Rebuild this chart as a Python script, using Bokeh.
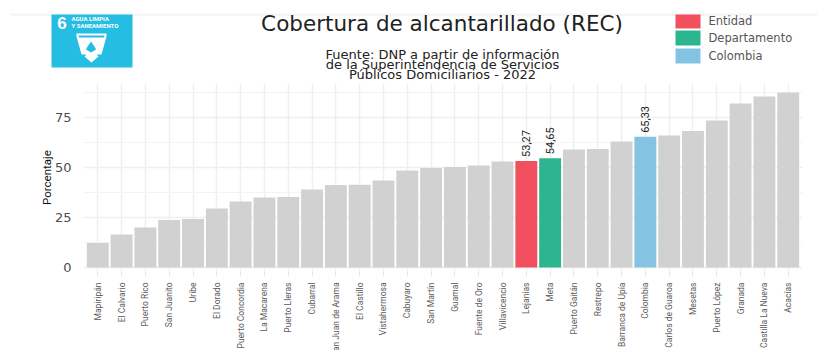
from math import pi
from bokeh.plotting import figure
from bokeh.layouts import column
from bokeh.models import ColumnDataSource, FactorRange, Range1d, FixedTicker
from bokeh.core.properties import value
from bokeh.embed import file_html
from bokeh.resources import INLINE

municipios = ["Mapiripán", "El Calvario", "Puerto Rico", "San Juanito", "Uribe", "El Dorado",
              "Puerto Concordia", "La Macarena", "Puerto Lleras", "Cubarral", "San Juan de Arama",
              "El Castillo", "Vistahermosa", "Cabuyaro", "San Martín", "Guamal", "Fuente de Oro",
              "Villavicencio", "Lejanías", "Meta", "Puerto Gaitán", "Restrepo", "Barranca de Upía",
              "Colombia", "San Carlos de Guaroa", "Mesetas", "Puerto López", "Granada",
              "Castilla La Nueva", "Acacías"]
cobertura = [12.3, 16.5, 20.0, 23.8, 24.2, 29.5, 33.0, 35.0, 35.2, 39.0, 41.3, 41.4, 43.5, 48.5,
             49.7, 50.2, 51.0, 53.0, 53.27, 54.65, 59.0, 59.3, 63.0, 65.33, 66.0, 68.2, 73.5,
             82.0, 85.5, 87.5]
destacados = {"Lejanías": "Entidad", "Meta": "Departamento", "Colombia": "Colombia"}
colores_leyenda = {"Entidad": "#F2505F", "Departamento": "#2DB58F", "Colombia": "#85C3E3"}
color_base = "#D1D1D1"
y_ticks = [0, 25, 50, 75]
y_minor = [12.5, 37.5, 62.5, 87.5]

titulo = "Cobertura de alcantarillado (REC)"
fuente = ["Fuente: DNP a partir de información",
          "de la Superintendencia de Servicios",
          "Públicos Domiciliarios - 2022"]
NARROW = "Roboto"
WIDE = "DejaVu Sans"

# Header: coordinates are page pixels
h = figure(width=817, height=83, x_range=Range1d(0, 817), y_range=Range1d(83, 0),
           output_backend="svg", toolbar_location=None, min_border=0, outline_line_color=None,
           frame_align=False)
h.axis.visible = False
h.grid.visible = False
h.quad(left=[8], right=[817], top=[13], bottom=[14], color="#F6F6F6", line_color=None)
h.quad(left=[10], right=[817], top=[14], bottom=[15], color="#EEEEEE", line_color=None)

# ODS 6 logo
h.quad(left=[51], right=[132], top=[14], bottom=[67], color="#26BDE2", line_color=None)
h.patch([76, 106, 106, 101, 96, 98, 91, 84, 86, 81, 76], [33, 33, 36, 54, 54, 56, 62, 56, 54, 54, 36],
        color="#FFFFFF", line_color=None)
h.patch([78, 104, 103.5, 78.5], [35, 35, 37, 37], color="#26BDE2", line_color=None)
h.patch([90.5, 94, 95.5, 90.5, 85.5, 87], [41, 46, 49, 52, 49, 46], color="#26BDE2", line_color=None)
h.text(x=[61.5], y=[22], text=["6"], text_color="#FFFFFF", text_font=value("Liberation Sans"),
       text_font_style="bold", text_font_size="17px", text_align="center", text_baseline="middle")
h.text(x=[71, 71], y=[18, 24.5], text=["AGUA LIMPIA", "Y SANEAMIENTO"], text_color="#FFFFFF",
       text_font=value(NARROW), text_font_style="bold", text_font_size="6px",
       text_align="left", text_baseline="middle")

# Title and source
h.text(x=[441.5], y=[23], text=[titulo], text_color="#222222", text_font=value(WIDE),
       text_font_size="21.5px", text_align="center", text_baseline="middle")
h.text(x=[442, 442, 442], y=[54, 64, 74], text=fuente, text_color="#222222", text_font=value(WIDE),
       text_font_size="13px", text_align="center", text_baseline="middle")

# Legend
h.quad(left=[675, 675, 675], right=[700, 700, 700], top=[14, 30, 48], bottom=[28, 45, 63],
       color=list(colores_leyenda.values()), line_color=None)
h.text(x=[708, 708, 708], y=[20, 37.5, 55.5], text=list(colores_leyenda.keys()), text_color="#555555",
       text_font=value(WIDE), text_font_size="11.5px", text_align="left", text_baseline="middle")

# Main chart
colores = [colores_leyenda[destacados[m]] if m in destacados else color_base for m in municipios]
src = ColumnDataSource(dict(m=municipios, v=cobertura, c=colores))

p = figure(width=817, height=298,
           x_range=FactorRange(factors=municipios, range_padding=0.1, range_padding_units="absolute"),
           y_range=Range1d(-2, 92), output_backend="svg", toolbar_location=None,
           min_border_left=83, min_border_right=15, min_border_top=0, min_border_bottom=110,
           outline_line_color=None, frame_align=False)
p.vbar(x="m", top="v", bottom=0, width=0.92, fill_color="c", line_color=None, source=src)

et_m = [m for m in municipios if m in destacados]
et_v = [cobertura[municipios.index(m)] for m in et_m]
et_t = [f"{v:.2f}".replace(".", ",") for v in et_v]
p.text(x=et_m, y=et_v, text=et_t, angle=pi / 2, y_offset=-4, text_color="#222222",
       text_font=value(NARROW), text_font_size="11px", text_align="left", text_baseline="middle")

p.xgrid.grid_line_color = "#EFEFEF"
p.xgrid.grid_line_width = 1.5
p.ygrid.grid_line_color = "#EFEFEF"
p.ygrid.grid_line_width = 1.5
p.ygrid.minor_grid_line_color = "#F3F3F3"
p.ygrid.minor_grid_line_width = 1

p.yaxis.ticker = FixedTicker(ticks=y_ticks, minor_ticks=y_minor)
p.yaxis.axis_label = "Porcentaje"
p.yaxis.axis_label_text_font = NARROW
p.yaxis.axis_label_text_font_style = "normal"
p.yaxis.axis_label_text_font_size = "11.5px"
p.yaxis.axis_label_text_color = "#111111"
p.yaxis.axis_label_standoff = -2
p.yaxis.major_label_text_font = WIDE
p.yaxis.major_label_text_font_size = "13px"
p.yaxis.major_label_text_color = "#4D4D4D"
p.yaxis.major_label_standoff = 6
p.yaxis.major_tick_line_color = None
p.yaxis.minor_tick_line_color = None
p.yaxis.axis_line_color = None

p.xaxis.major_label_orientation = pi / 2
p.xaxis.major_label_text_font = NARROW
p.xaxis.major_label_text_font_size = "8.5px"
p.xaxis.major_label_text_color = "#5A5A5A"
p.xaxis.major_label_standoff = 6
p.xaxis.major_tick_line_color = "#E6E6E6"
p.xaxis.major_tick_in = 0
p.xaxis.major_tick_out = 5
p.xaxis.axis_line_color = None

layout = column(h, p, spacing=0, height=350, width=817, styles={"overflow": "hidden"})
open("out.html", "w").write(file_html(layout, INLINE))
